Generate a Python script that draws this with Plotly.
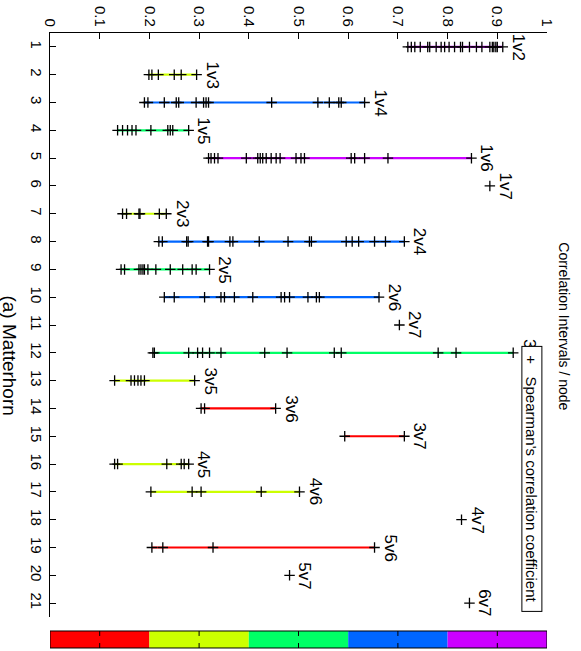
import plotly.graph_objects as go

# ---------------- data ----------------
pair_labels = ["1v2", "1v3", "1v4", "1v5", "1v6", "1v7", "2v3", "2v4", "2v5", "2v6", "2v7",
               "3v4", "3v5", "3v6", "3v7", "4v5", "4v6", "4v7", "5v6", "5v7", "6v7"]
row_index = list(range(1, 22))

v_1v2 = [0.720, 0.727, 0.734, 0.745, 0.760, 0.764, 0.777, 0.787, 0.794, 0.803, 0.814, 0.826,
         0.830, 0.844, 0.858, 0.869, 0.885, 0.890, 0.893, 0.897, 0.900, 0.911]
v_1v3 = [0.199, 0.205, 0.218, 0.250, 0.264, 0.295]
v_1v4 = [0.190, 0.197, 0.230, 0.254, 0.259, 0.294, 0.309, 0.314, 0.319, 0.446, 0.539, 0.562,
         0.581, 0.586, 0.633]
v_1v5 = [0.136, 0.146, 0.156, 0.165, 0.173, 0.203, 0.237, 0.242, 0.247, 0.279]
v_1v6 = [0.319, 0.324, 0.331, 0.338, 0.395, 0.418, 0.423, 0.428, 0.435, 0.445, 0.455, 0.463,
         0.495, 0.505, 0.512, 0.606, 0.613, 0.633, 0.680, 0.848]
v_1v7 = [0.885]
v_2v3 = [0.146, 0.154, 0.179, 0.181, 0.220, 0.234]
v_2v4 = [0.219, 0.226, 0.275, 0.278, 0.317, 0.319, 0.362, 0.368, 0.421, 0.479, 0.522, 0.526,
         0.596, 0.608, 0.621, 0.653, 0.675, 0.713]
v_2v5 = [0.143, 0.150, 0.179, 0.183, 0.187, 0.190, 0.197, 0.213, 0.242, 0.267, 0.286, 0.294, 0.321]
v_2v6 = [0.230, 0.250, 0.311, 0.344, 0.351, 0.371, 0.408, 0.465, 0.472, 0.482, 0.519, 0.536,
         0.542, 0.662]
v_2v7 = [0.703]
v_3v4 = [0.207, 0.210, 0.279, 0.297, 0.307, 0.321, 0.344, 0.432, 0.477, 0.572, 0.586, 0.781,
         0.817, 0.932]
v_3v5 = [0.130, 0.163, 0.170, 0.177, 0.183, 0.190, 0.291]
v_3v6 = [0.304, 0.311, 0.454]
v_3v7 = [0.593, 0.713]
v_4v5 = [0.130, 0.136, 0.235, 0.264, 0.270, 0.279]
v_4v6 = [0.203, 0.286, 0.304, 0.425, 0.502]
v_4v7 = [0.828]
v_5v6 = [0.205, 0.227, 0.328, 0.653]
v_5v7 = [0.482]
v_6v7 = [0.844]

intervals = [v_1v2, v_1v3, v_1v4, v_1v5, v_1v6, v_1v7, v_2v3, v_2v4, v_2v5, v_2v6, v_2v7,
             v_3v4, v_3v5, v_3v6, v_3v7, v_4v5, v_4v6, v_4v7, v_5v6, v_5v7, v_6v7]

value_ticks = [0, 0.1, 0.2, 0.3, 0.4, 0.5, 0.6, 0.7, 0.8, 0.9, 1.0]
value_tick_text = ["0", "0.1", "0.2", "0.3", "0.4", "0.5", "0.6", "0.7", "0.8", "0.9", "1"]
colorbar_edges = [0.0, 0.2, 0.4, 0.6, 0.8, 1.0]

# ---------------- style ----------------
HSV5 = ["#FF0000", "#CCFF00", "#00FF66", "#0066FF", "#CC00FF"]
row_color = {
    "1v2": HSV5[4], "1v3": HSV5[1], "1v4": HSV5[3], "1v5": HSV5[2], "1v6": HSV5[4],
    "2v3": HSV5[1], "2v4": HSV5[3], "2v5": HSV5[2], "2v6": HSV5[3],
    "3v4": HSV5[2], "3v5": HSV5[1], "3v6": HSV5[0], "3v7": HSV5[0],
    "4v5": HSV5[1], "4v6": HSV5[1], "5v6": HSV5[0],
}
FONT = "Liberation Sans, Arial, Helvetica, sans-serif"

fig = go.Figure()

# colored interval lines
for lab, r, vals in zip(pair_labels, row_index, intervals):
    if len(vals) > 1:
        fig.add_trace(go.Scatter(x=[min(vals), max(vals)], y=[r, r], mode="lines",
                                 line=dict(color=row_color[lab], width=2.2),
                                 showlegend=False, hoverinfo="skip"))

# black + markers
for lab, r, vals in zip(pair_labels, row_index, intervals):
    fig.add_trace(go.Scatter(x=vals, y=[r] * len(vals), mode="markers",
                             marker=dict(symbol="cross-thin", size=7.5,
                                         line=dict(color="black", width=1.3)),
                             showlegend=False, name=lab))

annotations = []
for lab, r, vals in zip(pair_labels, row_index, intervals):
    annotations.append(dict(x=max(vals), y=r, xref="x", yref="y", text=lab,
                            showarrow=False, textangle=90, xanchor="left", yanchor="middle",
                            xshift=4, font=dict(family=FONT, size=17, color="black")))

# legend box (drawn after labels so it covers the 3v4 label)
annotations.append(dict(x=0.9703, y=11.76, xref="x", yref="y",
                        text="\u00a0\u00a0+\u00a0\u00a0\u00a0Spearman's correlation coefficient",
                        showarrow=False, textangle=90, xanchor="center", yanchor="top",
                        align="left", width=264, height=19, borderpad=0, borderwidth=1,
                        bordercolor="black", bgcolor="white",
                        font=dict(family=FONT, size=15, color="black")))

annotations.append(dict(x=1.034, y=0.498, xref="paper", yref="paper",
                        text="Correlation Intervals / node", showarrow=False, textangle=90,
                        xanchor="center", yanchor="middle",
                        font=dict(family=FONT, size=14, color="black")))
annotations.append(dict(x=-0.0815, y=0.447, xref="paper", yref="paper",
                        text="(a) Matterhorn", showarrow=False, textangle=90,
                        xanchor="center", yanchor="middle",
                        font=dict(family=FONT, size=19, color="black")))

# colorbar at the bottom
shapes = []
cb_top, cb_bot = -0.02397, -0.05308
for i in range(len(colorbar_edges) - 1):
    shapes.append(dict(type="rect", xref="x", yref="paper", x0=colorbar_edges[i],
                       x1=colorbar_edges[i + 1], y0=cb_bot, y1=cb_top,
                       fillcolor=HSV5[i], line=dict(width=0)))
shapes.append(dict(type="rect", xref="x", yref="paper", x0=0, x1=1, y0=cb_bot, y1=cb_top,
                   line=dict(color="black", width=1)))
for t in [0.1, 0.3, 0.5, 0.7, 0.9]:
    shapes.append(dict(type="line", xref="x", yref="paper", x0=t, x1=t, y0=cb_top,
                       y1=cb_top - 0.0085, line=dict(color="black", width=1)))
    shapes.append(dict(type="line", xref="x", yref="paper", x0=t, x1=t, y0=cb_bot,
                       y1=cb_bot + 0.0085, line=dict(color="black", width=1)))

fig.update_layout(
    width=581, height=651,
    margin=dict(l=50, r=34, t=33, b=34, pad=0),
    paper_bgcolor="white", plot_bgcolor="white",
    showlegend=False,
    font=dict(family=FONT, size=15, color="black"),
    xaxis=dict(range=[0, 1], side="top", tickvals=value_ticks, ticktext=value_tick_text,
               tickangle=90, ticks="inside", ticklen=6, tickcolor="black", showline=True,
               linecolor="black", linewidth=1, showgrid=False, zeroline=False,
               automargin=False, tickfont=dict(family=FONT, size=15)),
    yaxis=dict(range=[21.5, 0.5], tickvals=row_index, tickangle=90, ticks="inside",
               ticklen=6, tickcolor="black", showline=True, linecolor="black", linewidth=1,
               showgrid=False, zeroline=False, automargin=False,
               tickfont=dict(family=FONT, size=15)),
    annotations=annotations,
    shapes=shapes,
)

# remove the default page margin so the figure fills the window exactly
fig.write_html("out.html",
               config={"displayModeBar": False},
               post_script="document.body.style.margin='0';document.body.style.overflow='hidden';")
